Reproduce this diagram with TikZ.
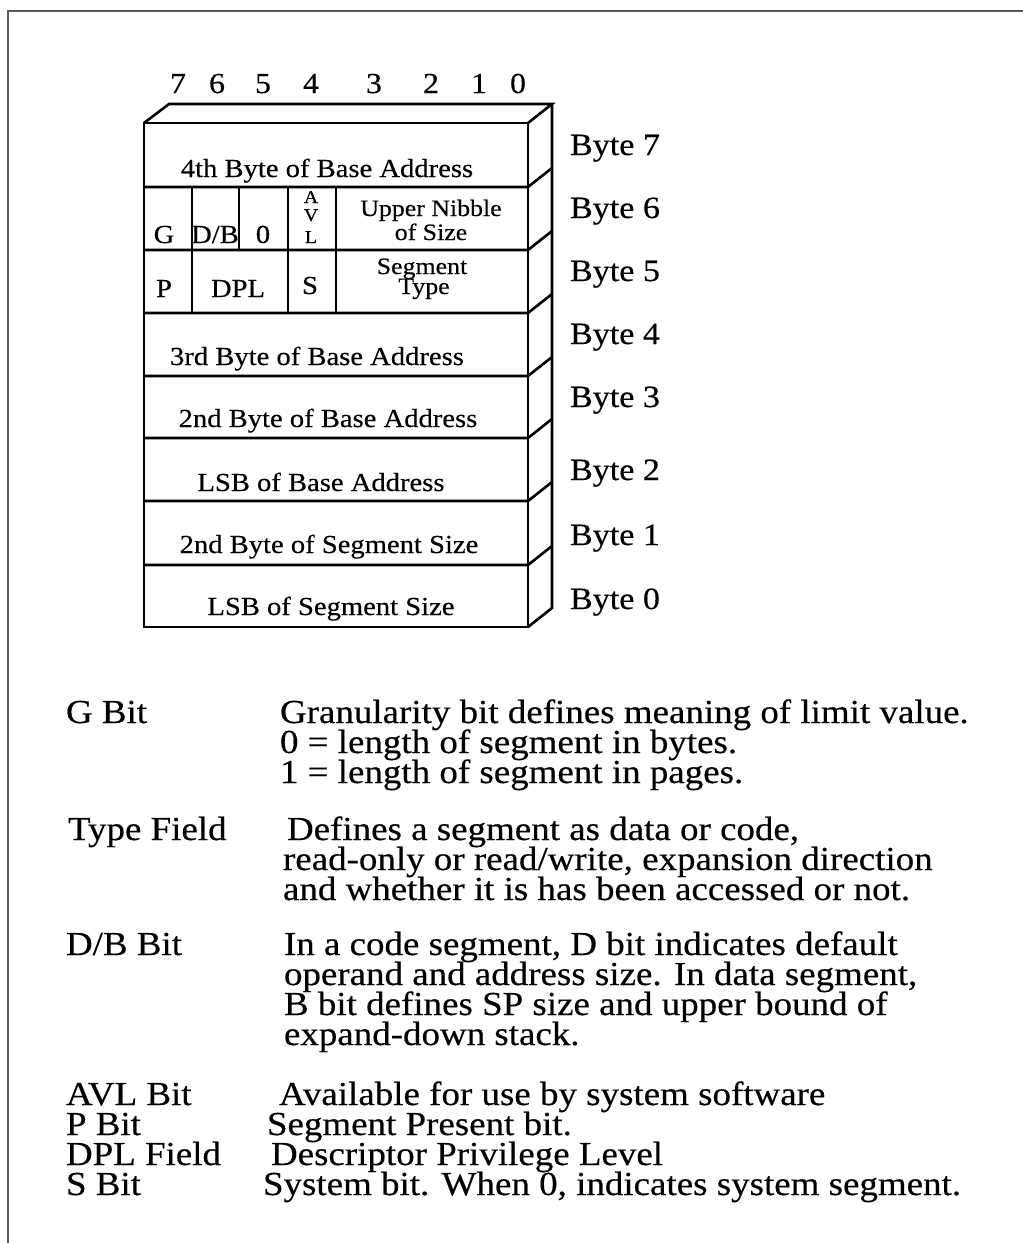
\documentclass[tikz,border=0pt]{standalone}
\usepackage{fontspec}
\setmainfont{Liberation Serif}[FakeStretch=1.1,FakeBold=0.4]
\begin{document}
\begin{tikzpicture}[x=1pt,y=-1pt,
  every node/.style={inner sep=0pt, outer sep=0pt},
  boxline/.style={line width=2.6pt, line join=miter, black},
  frameline/.style={line width=2pt, draw={rgb,255:red,90;green,90;blue,90}},
  bitnum/.style={anchor=base, font=\fontsize{29}{29}\selectfont},
  bytelbl/.style={anchor=base west, font=\fontsize{31}{31}\selectfont},
  cell/.style={anchor=base, font=\fontsize{26}{26}\selectfont},
  smallcell/.style={anchor=base, font=\fontsize{23.5}{23.5}\selectfont},
  tinycell/.style={anchor=base, font=\fontsize{18}{18}\selectfont},
  term/.style={anchor=base west, font=\fontsize{33.6}{33.6}\selectfont},
  desc/.style={anchor=base west, font=\fontsize{33.6}{33.6}\selectfont}
]
\useasboundingbox (0,0) rectangle (1023,1243);
% frame (top and left edges)
\draw[frameline] (1023,11) -- (7.5,11) -- (7.5,1243);

% bit numbers
\node[bitnum] (b7) at (178,93) {7};
\node[bitnum] (b6) at (217,93) {6};
\node[bitnum] (b5) at (263,93) {5};
\node[bitnum] (b4) at (311,93) {4};
\node[bitnum] (b3) at (374,93) {3};
\node[bitnum] (b2) at (431,93) {2};
\node[bitnum] (b1) at (479,93) {1};
\node[bitnum] (b0) at (518,93) {0};

% box: front face, top face, right face
\draw[boxline] (144,123) rectangle (528,627);
\draw[boxline] (144,123) -- (169,104) -- (552,104) -- (528,123);
\draw[boxline] (552,104) -- (552,608) -- (528,627);
\foreach \yy in {187,250,313,376,438,501,565}{
  \draw[boxline] (144,\yy) -- (528,\yy) -- (552,\yy-19);
}
% column dividers
\foreach \xx in {192,239,288,336}{ \draw[boxline] (\xx,187) -- (\xx,250); }
\foreach \xx in {192,288,336}{ \draw[boxline] (\xx,250) -- (\xx,313); }

% byte labels
\node[bytelbl] (by7) at (570,155) {Byte 7};
\node[bytelbl] (by6) at (570,218) {Byte 6};
\node[bytelbl] (by5) at (570,281) {Byte 5};
\node[bytelbl] (by4) at (570,344) {Byte 4};
\node[bytelbl] (by3) at (570,407) {Byte 3};
\node[bytelbl] (by2) at (570,480) {Byte 2};
\node[bytelbl] (by1) at (570,545) {Byte 1};
\node[bytelbl] (by0) at (570,609) {Byte 0};

% cell texts
\node[cell] (c7) at (327,177) {4th Byte of Base Address};
\node[cell] (g) at (164,243) {G};
\node[cell] (db) at (215,243) {D/B};
\node[cell] (z) at (263,243) {0};
\node[tinycell] (avla) at (311,203) {A};
\node[tinycell] (avlv) at (311,221) {V};
\node[tinycell] (avll) at (311,243) {L};
\node[smallcell] (un) at (431,216) {Upper Nibble};
\node[smallcell] (os) at (431,240) {of Size};
\node[cell] (p) at (164,297) {P};
\node[cell] (dpl) at (238,297) {DPL};
\node[cell] (s) at (310,294) {S};
\node[smallcell] (seg) at (422,274) {Segment};
\node[smallcell] (typ) at (424,294) {Type};
\node[cell] (c4) at (317,365) {3rd Byte of Base Address};
\node[cell] (c3) at (328,427) {2nd Byte of Base Address};
\node[cell] (c2) at (321,491) {LSB of Base Address};
\node[cell] (c1) at (329,553) {2nd Byte of Segment Size};
\node[cell] (c0) at (331,615) {LSB of Segment Size};

% legend
\node[term] (tg) at (66,723) {G Bit};
\node[desc] (dg1) at (280,723) {Granularity bit defines meaning of limit value.};
\node[desc] (dg2) at (280,753) {0 = length of segment in bytes.};
\node[desc] (dg3) at (280,783) {1 = length of segment in pages.};
\node[term] (tt) at (68,840) {Type Field};
\node[desc] (dt1) at (287,840) {Defines a segment as data or code,};
\node[desc] (dt2) at (283,870) {read-only or read/write, expansion direction};
\node[desc] (dt3) at (283,900) {and whether it is has been accessed or not.};
\node[term] (td) at (66,955) {D/B Bit};
\node[desc] (dd1) at (284,955) {In a code segment, D bit indicates default};
\node[desc] (dd2) at (284,985) {operand and address size. In data segment,};
\node[desc] (dd3) at (284,1015) {B bit defines SP size and upper bound of};
\node[desc] (dd4) at (284,1045) {expand-down stack.};
\node[term] (ta) at (66,1105) {AVL Bit};
\node[desc] (da) at (279,1105) {Available for use by system software};
\node[term] (tp) at (66,1135) {P Bit};
\node[desc] (dp) at (267,1135) {Segment Present bit.};
\node[term] (tl) at (66,1165) {DPL Field};
\node[desc] (dl) at (271,1165) {Descriptor Privilege Level};
\node[term] (ts) at (66,1195) {S Bit};
\node[desc] (ds) at (263,1195) {System bit. When 0, indicates system segment.};
\end{tikzpicture}
\end{document}
